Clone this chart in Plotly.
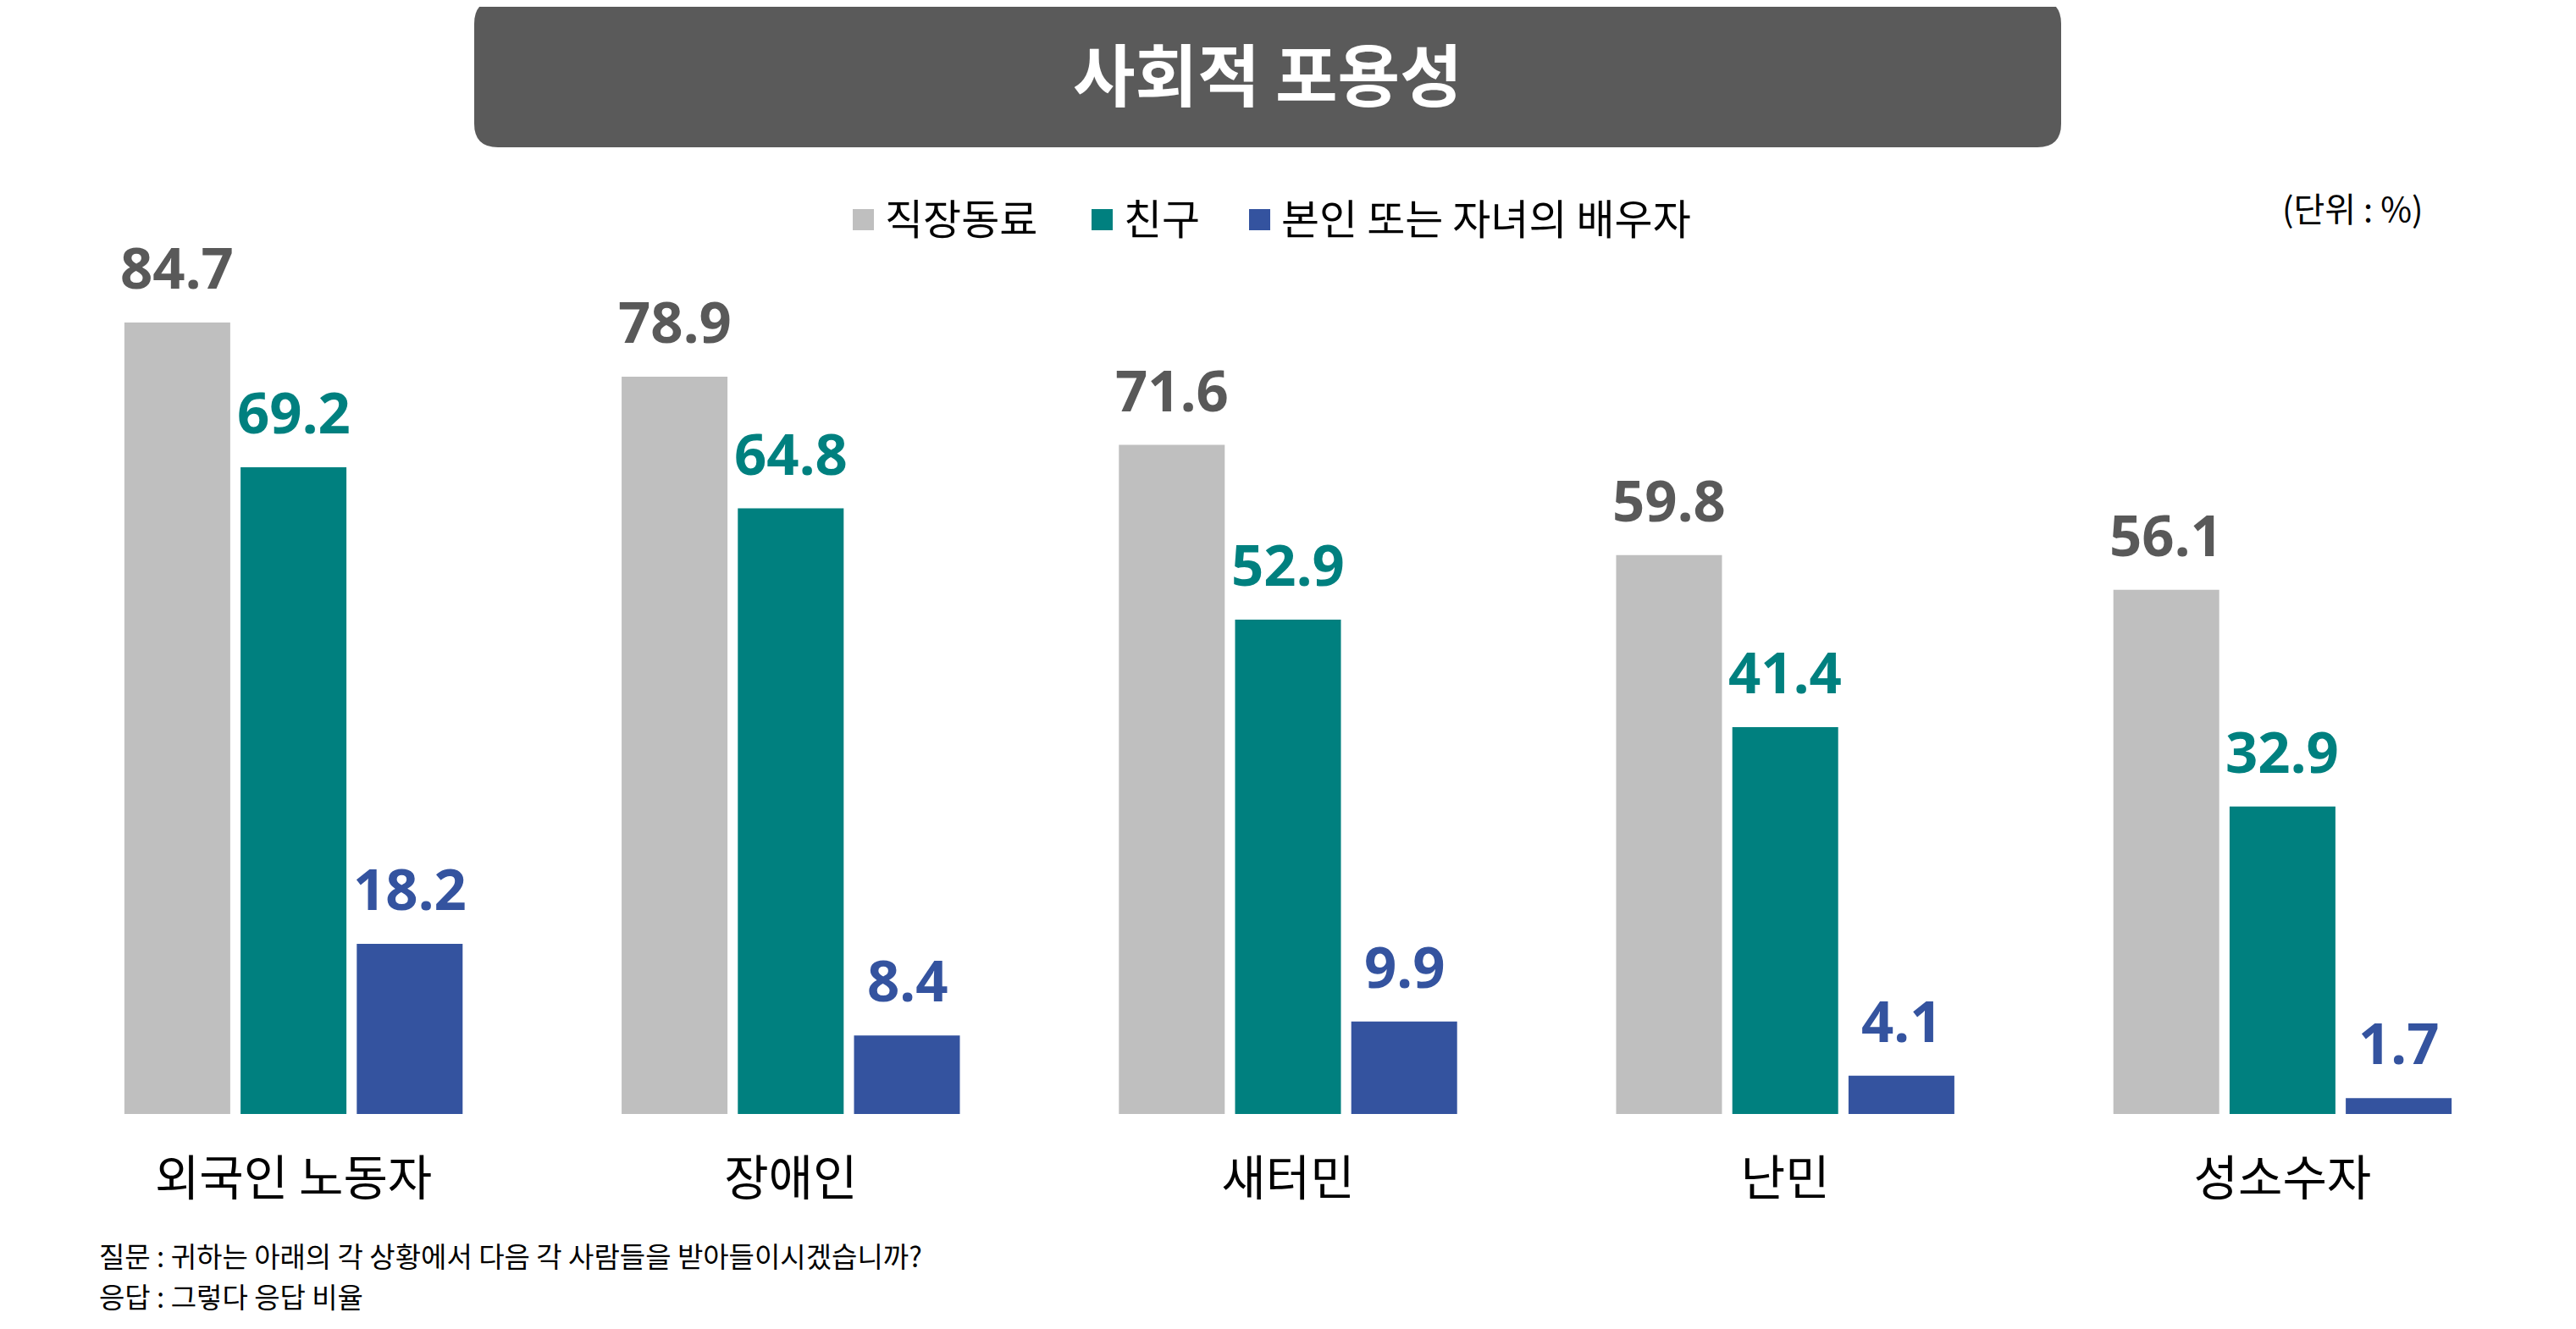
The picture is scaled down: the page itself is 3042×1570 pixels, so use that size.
import plotly.graph_objects as go

categories = ["외국인 노동자", "장애인", "새터민", "난민", "성소수자"]
series_names = ["직장동료", "친구", "본인 또는 자녀의 배우자"]
coworker = [84.7, 78.9, 71.6, 59.8, 56.1]
friend = [69.2, 64.8, 52.9, 41.4, 32.9]
spouse = [18.2, 8.4, 9.9, 4.1, 1.7]

bar_colors = ["#BFBFBF", "#00807F", "#34539F"]
label_colors = ["#595959", "#00807F", "#34539F"]

KR = "Noto Sans CJK KR"
OFF = 8  # the page body margin pushes the figure right/down
W, H = 3042 - OFF, 1570 - OFF
L, R, T, B = 53 - OFF, 53, 212 - OFF, 254
BARGAP = 0.299

# screen pixel -> paper helpers for the decorations outside the plot area
def px_x(p):
    return (p - OFF - L) / (W - L - R)

def px_y(p):
    return (H - B - (p - OFF)) / (H - T - B)

fig = go.Figure()
all_values = [coworker, friend, spouse]
for name, vals, col in zip(series_names, all_values, bar_colors):
    fig.add_trace(go.Bar(x=categories, y=vals, name=name, marker_color=col,
                         marker_line_width=0, showlegend=False))

annotations = []
slot = (1 - BARGAP) / 3
for k, vals in enumerate(all_values):
    for i, v in enumerate(vals):
        annotations.append(dict(
            x=i + (k - 1) * slot, y=v, xref="x", yref="y",
            text=f"{v:.1f}", showarrow=False, xanchor="center", yanchor="middle",
            yshift=66,
            font=dict(family="Noto Sans", size=67, color=label_colors[k], weight=700),
        ))

def paper_text(x, y, text, size, color="black", xanchor="center", weight=400):
    return dict(x=px_x(x), y=px_y(y), xref="paper", yref="paper", text=text,
                showarrow=False, xanchor=xanchor, yanchor="middle",
                font=dict(family=KR, size=size, color=color, weight=weight))

# title box with rounded corners
bx0, bx1, by0, by1, rad = 560, 2434, 0, 174, 28
shapes = [dict(type="path", xref="paper", yref="paper", fillcolor="#5A5A5A",
               line_width=0, layer="below",
               path=(f"M{px_x(bx0 + rad)},{px_y(by0)} L{px_x(bx1 - rad)},{px_y(by0)} "
                     f"Q{px_x(bx1)},{px_y(by0)} {px_x(bx1)},{px_y(by0 + rad)} "
                     f"L{px_x(bx1)},{px_y(by1 - rad)} "
                     f"Q{px_x(bx1)},{px_y(by1)} {px_x(bx1 - rad)},{px_y(by1)} "
                     f"L{px_x(bx0 + rad)},{px_y(by1)} "
                     f"Q{px_x(bx0)},{px_y(by1)} {px_x(bx0)},{px_y(by1 - rad)} "
                     f"L{px_x(bx0)},{px_y(by0 + rad)} "
                     f"Q{px_x(bx0)},{px_y(by0)} {px_x(bx0 + rad)},{px_y(by0)} Z"))]
annotations.append(paper_text(1497, 84, "사회적 포용성", 80, "white", weight=700))

# legend (drawn by hand to get the larger square keys)
key_left = [1007, 1289, 1475]
for name, col, x0 in zip(series_names, bar_colors, key_left):
    shapes.append(dict(type="rect", xref="paper", yref="paper",
                       x0=px_x(x0), x1=px_x(x0 + 25), y0=px_y(272), y1=px_y(247),
                       fillcolor=col, line_width=0))
    annotations.append(paper_text(x0 + 36, 256, name, 49, xanchor="left"))

annotations.append(paper_text(2778, 245, "(단위 : %)", 40))

# footnote
annotations.append(paper_text(115, 1483,
                              "질문 : 귀하는 아래의 각 상황에서 다음 각 사람들을 받아들이시겠습니까?",
                              33, xanchor="left"))
annotations.append(paper_text(115, 1531, "응답 : 그렇다 응답 비율", 33, xanchor="left"))

fig.update_layout(
    barmode="group",
    bargap=BARGAP,
    bargroupgap=0.089,
    width=W,
    height=H,
    autosize=False,
    margin=dict(l=L, r=R, t=T, b=B, pad=0),
    paper_bgcolor="white",
    plot_bgcolor="white",
    font=dict(family=KR, color="black"),
    annotations=annotations,
    shapes=shapes,
)
fig.update_xaxes(range=[-0.5, 4.5], showline=False, showgrid=False, zeroline=False,
                 ticks="", ticklabelstandoff=38,
                 tickfont=dict(family=KR, size=57, color="black"))
fig.update_yaxes(range=[0, 100], visible=False)

fig.write_html("out.html")
